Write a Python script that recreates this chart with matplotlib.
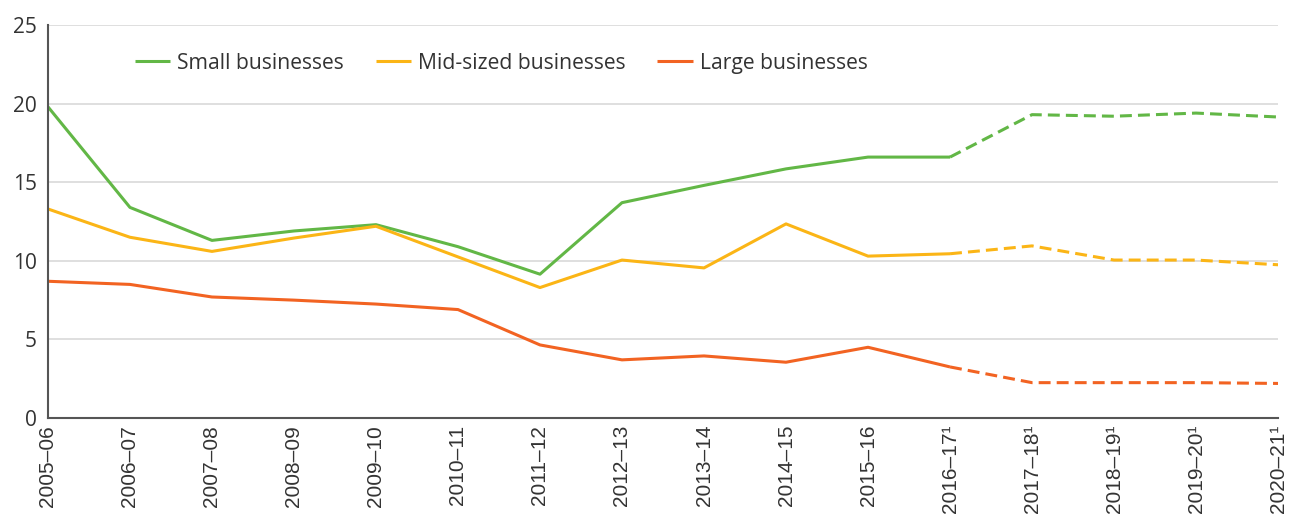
import matplotlib
matplotlib.use("Agg")
import matplotlib.pyplot as plt

years = ["2005–06", "2006–07", "2007–08", "2008–09", "2009–10", "2010–11",
         "2011–12", "2012–13", "2013–14", "2014–15", "2015–16", "2016–17¹",
         "2017–18¹", "2018–19¹", "2019–20¹", "2020–21¹"]
small = [19.8, 13.4, 11.3, 11.9, 12.3, 10.9, 9.15, 13.7, 14.8, 15.85, 16.6, 16.6,
         19.3, 19.2, 19.4, 19.15]
mid = [13.3, 11.5, 10.6, 11.45, 12.2, 10.25, 8.3, 10.05, 9.55, 12.35, 10.3, 10.45,
       10.95, 10.05, 10.05, 9.75]
large = [8.7, 8.5, 7.7, 7.5, 7.25, 6.9, 4.65, 3.7, 3.95, 3.55, 4.5, 3.25,
         2.25, 2.25, 2.25, 2.2]
names = ["Small businesses", "Mid-sized businesses", "Large businesses"]
colors = ["#62b746", "#fbb516", "#f26322"]
split = 11  # index of 2016-17, last solid point

fig = plt.figure(figsize=(12.89, 5.22), dpi=100)
ax = fig.add_axes([0.0372, 0.1992, 0.9543, 0.7528])
x = list(range(len(years)))
for vals, name, c in zip([small, mid, large], names, colors):
    ax.plot(x[:split + 1], vals[:split + 1], color=c, lw=2.2, label=name,
            solid_capstyle="butt")
    ax.plot(x[split:], vals[split:], color=c, lw=2.2, linestyle=(0, (3.9, 2.0)),
            dash_capstyle="butt")

ax.set_xlim(0, len(years) - 1)
ax.set_ylim(0, 25)
ax.set_yticks([0, 5, 10, 15, 20, 25])
ax.set_xticks(x)
ax.set_xticklabels(years, rotation=90, fontsize=15, family="Liberation Sans",
                   color="#333333")
for lab in ax.get_yticklabels():
    lab.set_fontfamily("Open Sans")
    lab.set_fontsize(15)
    lab.set_color("#333333")
ax.tick_params(axis="both", length=0, pad=5)
ax.tick_params(axis="y", pad=8)
ax.grid(axis="y", color="#d9d9d9", lw=1.2)
ax.set_axisbelow(True)
for s in ["top", "right"]:
    ax.spines[s].set_visible(False)
for s in ["left", "bottom"]:
    ax.spines[s].set_color("#555555")
    ax.spines[s].set_linewidth(1.5)

handles = ax.get_lines()[0::2]
leg = ax.legend(handles, names, ncol=3, frameon=False, loc="center left",
                bbox_to_anchor=(0.0707, 0.903), handlelength=1.66, handletextpad=0.35,
                columnspacing=1.5, borderaxespad=0, borderpad=0,
                prop={"family": "Open Sans", "size": 15.2})
for t in leg.get_texts():
    t.set_color("#333333")

fig.savefig("out.png", dpi=100)
